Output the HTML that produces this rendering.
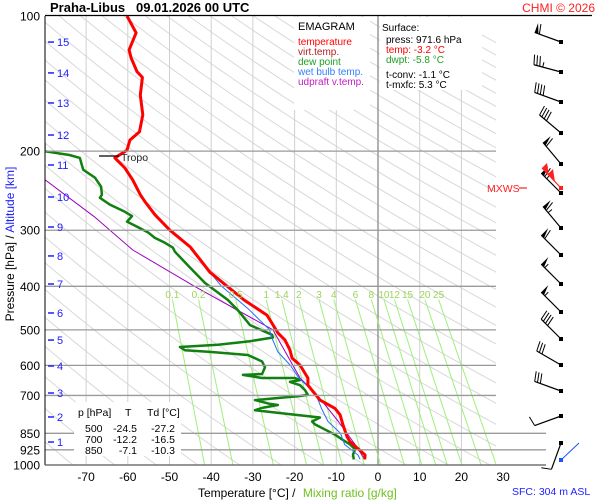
<!DOCTYPE html>
<html><head><meta charset="utf-8">
<style>
body{margin:0;background:#fff;}
svg{display:block;font-family:"Liberation Sans",sans-serif;}
</style></head>
<body>
<svg id="c" width="600" height="500" viewBox="0 0 600 500">
<defs><clipPath id="pc"><rect x="45" y="16" width="451" height="449"/></clipPath></defs>
<rect x="0" y="0" width="600" height="500" fill="#fff"/>
<g id="grid" clip-path="url(#pc)"></g>
<g id="series" clip-path="url(#pc)"></g>
<g id="axes"></g>
</svg>
<script>
// ---- data ----
const tempP=[100,109,119,124,133,137,150,166,181,189,199,207,218,232,250,259,277,300,327,372,429,464,508,527,555,578,599,640,664,717,748,773,814,866,888,950,971.6];
const tempT=[-60.2,-58,-59.7,-59.2,-57.8,-56.5,-57,-56.4,-57.2,-59.5,-60.2,-63.1,-60.7,-58.8,-57,-55.9,-53.5,-49.9,-45,-40.3,-32.1,-26.6,-24,-22.3,-21.1,-20.6,-18.7,-16.8,-16.8,-13.9,-10.3,-9.1,-8.4,-7.4,-6.7,-3.1,-3.2];
const dewP=[192,200,204,207,220,229,240,250,254,263,273,279,287,293,303,312,320,328,335,364,393,429,452,488,513,520,530,540,546,555,560,569,588,606,627,630,640,640,647,653,664,681,698,702,717,731,735,746,755,773,784,800,812,856,877,900,923,948,971.6];
const dewT=[-80,-80,-74,-71.5,-70.7,-67.9,-66.4,-66.2,-66.7,-64.3,-60.7,-59,-60.2,-58.3,-55.2,-53.5,-51.1,-49.2,-48.7,-45,-41.5,-36,-33.6,-30.7,-25.4,-25.2,-30.7,-38.4,-47.5,-46.3,-40.3,-31.2,-27.8,-27.1,-27.8,-32.4,-27.8,-19.9,-18.7,-21.1,-18.7,-17.5,-16.8,-18.7,-29.5,-25.9,-24,-27.8,-29.5,-19.9,-13.9,-15.8,-15.1,-10.3,-8.6,-6.7,-5.5,-6,-5.8];
const wbP=[330,400,450,500,520,560,600,640,680,700,750,800,850,900,950,971.6];
const wbT=[-45,-37.5,-31,-26,-25.5,-24,-21,-19,-16,-14.8,-13.5,-12,-9,-8,-4.8,-4.3];
const updP=[231,280,332,400,500,640,700,800,900,971.6];
const updT=[-80,-68,-58.8,-44,-25.2,-18.7,-14.5,-9.5,-5.5,-3.2];
const mixW=[0.1,0.2,0.5,1,1.4,2,3,4,6,8,10,12,15,20,25];
const xTicks=[-70,-60,-50,-40,-30,-20,-10,0,10,20,30];
const pTicks=[100,200,300,400,500,600,700,850,925,1000];
const kmLevels=[15,14,13,12,11,10,9,8,7,6,5,4,3,2,1];
const kmP=[114.3,133.9,156.2,184.1,214.7,253,295.1,342.3,395.3,458.6,526.9,601.9,691.3,781.7,888.8];
const windY=[42,72,102,133,164,193,228,255,284,312,339,365,391,416,443];
const windDir=[290,285,290,310,320,315,320,315,315,315,315,300,290,250,200];
const windSpd=[60,35,40,40,60,70,65,60,55,55,40,30,30,10,10];

const X=t=>378+t*4.17;
const Y=p=>16+449*Math.log10(p/100);
const NS="http://www.w3.org/2000/svg";
function mk(tag,attrs,parent){const e=document.createElementNS(NS,tag);for(const k in attrs)e.setAttribute(k,attrs[k]);parent.appendChild(e);return e;}
const grid=document.getElementById('grid'),series=document.getElementById('series'),axes=document.getElementById('axes');

// dry adiabats
for(let th=160;th<=560;th+=10){let d='';for(let p=100;p<=1000;p+=10){const t=th*Math.pow(p/1000,0.286)-273.15;d+=(p==100?'M':'L')+X(t).toFixed(1)+','+Y(p).toFixed(1);}
const e=mk('path',{d:d,fill:'none',stroke:'#d8d8d8','stroke-width':1},grid);

}
// vertical grid
xTicks.forEach(t=>{const e=mk('line',{x1:X(t),x2:X(t),y1:16,y2:465,stroke:t==0?'#999':'#d0d0d0','stroke-width':t==0?1.5:1},grid);

});
// pressure lines
pTicks.forEach(p=>{if(p==100)return;const x2=(p>=850)?546:496;const e=mk('line',{x1:45,x2:x2,y1:Y(p),y2:Y(p),stroke:'#9a9a9a','stroke-width':1.3},axes);

});
// mixing ratio lines
function tdFromW(w,p){const e=w*p/(622+w);const l=Math.log(e/6.112);return 243.5*l/(17.67-l);}
mixW.forEach(w=>{const pt=428;const e=mk('line',{x1:X(tdFromW(w,pt)),y1:Y(pt),x2:X(tdFromW(w,1000)),y2:Y(1000),stroke:'#9ef07a','stroke-width':1},grid);


const tx=mk('text',{x:X(tdFromW(w,pt)),y:298,'font-size':10,fill:'#9ed35a','text-anchor':'middle'},axes);tx.textContent=w;

});

// series
function line(P,T,color,w,name){let d='';P.forEach((p,i)=>{d+=(i?'L':'M')+X(T[i]).toFixed(1)+','+Y(p).toFixed(1);});
const e=mk('path',{d:d,fill:'none',stroke:color,'stroke-width':w,'stroke-linejoin':'round'},series);

}
line(updP,updT,'#a000c0',1,'updraft-line');
line(dewP,dewT,'#108010',2.5,'dew-point-line');
line(wbP,wbT,'#2070ff',1,'wet-bulb-line');
line(tempP,tempT,'#ff0000',3,'temperature-line');

// axes frame
mk('line',{x1:45,y1:16,x2:45,y2:465,stroke:'#000','stroke-width':1},axes);
mk('line',{x1:45,y1:15.5,x2:592,y2:15.5,stroke:'#000','stroke-width':1.2},axes);
mk('line',{x1:45,y1:465,x2:546,y2:465,stroke:'#666','stroke-width':1.3},axes);
// x tick labels
xTicks.forEach(t=>{const e=mk('text',{x:X(t),y:481,'font-size':12,fill:'#000','text-anchor':'middle'},axes);e.textContent=t;

});
// p labels
pTicks.forEach(p=>{const e=mk('text',{x:40,y:Y(p)+4.5,'font-size':12,fill:'#000','text-anchor':'end'},axes);e.textContent=p;

});
// km labels
kmLevels.forEach((k,i)=>{const y=Y(kmP[i]);mk('line',{x1:48,x2:54,y1:y,y2:y,stroke:'#2020ff','stroke-width':1.5},axes);
const e=mk('text',{x:57,y:y+4,'font-size':11,fill:'#2020ff'},axes);e.textContent=k;

});
// wind barbs
windY.forEach((y,i)=>{const x0=561,a=windDir[i]*Math.PI/180;const dx=Math.sin(a),dy=-Math.cos(a);const L=28;
const x1=x0+dx*L,y1=y+dy*L;const g=mk('g',{},axes);


mk('line',{x1:x0,y1:y,x2:x1,y2:y1,stroke:'#000','stroke-width':1.2},g);
mk('rect',{x:x0-2,y:y-2,width:4,height:4,fill:'#000'},g);
let s=windSpd[i],pos=0;const px=-dy,py=dx;
while(s>=50){const bx=x1-dx*pos,by=y1-dy*pos;mk('polygon',{points:`${bx},${by} ${bx+px*10},${by+py*10} ${bx-dx*4},${by-dy*4}`,fill:'#000'},g);pos+=5;s-=50;}
while(s>=10){const bx=x1-dx*pos,by=y1-dy*pos;mk('line',{x1:bx,y1:by,x2:bx+px*10+dx*2,y2:by+py*10+dy*2,stroke:'#000','stroke-width':1},g);pos+=3;s-=10;}
if(s>=5){const bx=x1-dx*pos,by=y1-dy*pos;mk('line',{x1:bx,y1:by,x2:bx+px*5,y2:by+py*5,stroke:'#000','stroke-width':1},g);}
});
</script>
<!-- static overlays -->
<svg style="position:absolute;left:0;top:0" width="600" height="500">
<text x="50" y="12" font-family="Liberation Sans" font-size="13" font-weight="bold">Praha-Libus  &#160; 09.01.2026 00 UTC</text>
<text x="595" y="12" font-family="Liberation Sans" font-size="12" fill="#ff2020" text-anchor="end">CHMI © 2026</text>
<g font-family="Liberation Sans" font-size="10">
<rect x="294" y="17" width="76" height="93" fill="#fff"/>
<text x="298" y="30" font-size="11">EMAGRAM</text>
<text x="298" y="45" fill="#ff0000">temperature</text>
<text x="298" y="55" fill="#b02020">virt.temp.</text>
<text x="298" y="65" fill="#20a020">dew point</text>
<text x="298" y="75" fill="#3080ff">wet bulb temp.</text>
<text x="298" y="85" fill="#c020c0">udpraft v.temp.</text>
</g>
<g font-family="Liberation Sans" font-size="10">
<rect x="380" y="17" width="102" height="73" fill="#fff"/>
<text x="382" y="31">Surface:</text>
<text x="386" y="43">press: 971.6 hPa</text>
<text x="386" y="53" fill="#ff0000">temp: -3.2 °C</text>
<text x="386" y="63" fill="#20a020">dwpt: -5.8 °C</text>
<text x="386" y="78">t-conv: -1.1 °C</text>
<text x="386" y="88">t-mxfc: 5.3 °C</text>
</g>
<g font-family="Liberation Sans" font-size="10.5">
<rect x="74" y="402" width="107" height="54" fill="#fff"/>
<text x="78" y="416">p [hPa]</text><text x="125" y="416">T</text><text x="147" y="416">Td [°C]</text>
<text x="85" y="432">500</text><text x="137" y="432" text-anchor="end">-24.5</text><text x="175" y="432" text-anchor="end">-27.2</text>
<text x="85" y="443">700</text><text x="137" y="443" text-anchor="end">-12.2</text><text x="175" y="443" text-anchor="end">-16.5</text>
<text x="85" y="454">850</text><text x="137" y="454" text-anchor="end">-7.1</text><text x="175" y="454" text-anchor="end">-10.3</text>
</g>
<g>
<line x1="99" y1="156" x2="119" y2="156" stroke="#000" stroke-width="1.2"/>
<text x="121" y="161" font-family="Liberation Sans" font-size="10.5" fill="#222">Tropo</text>
</g>
<g>
<text x="487" y="192" font-family="Liberation Sans" font-size="10.5" fill="#ff2020">MXWS</text>
<line x1="519" y1="188" x2="527" y2="188" stroke="#ff2020" stroke-width="1.2"/>
<line x1="561" y1="188" x2="542" y2="168" stroke="#ff2020" stroke-width="1.2"/>
<polygon points="542,168 549,176 547,163" fill="#ff2020"/>
<polygon points="548,174 555,182 553,169" fill="#ff2020"/>
<rect x="559" y="186" width="4" height="4" fill="#ff2020"/>
</g>
<line x1="561" y1="460" x2="579" y2="443" stroke="#2050ff" stroke-width="1"/>
<rect x="559" y="458" width="4" height="4" fill="#2050ff"/>
<text x="6" y="0" transform="translate(14,250) rotate(-90)" text-anchor="middle" font-family="Liberation Sans" font-size="12"><tspan fill="#000">Pressure [hPa]  /  </tspan><tspan fill="#2020ff">Altitude [km]</tspan></text>
<text x="198" y="497" font-family="Liberation Sans" font-size="12"><tspan fill="#000">Temperature [°C]  /  </tspan><tspan fill="#70c020" dx="4">Mixing ratio [g/kg]</tspan></text>
<text x="512" y="495" font-family="Liberation Sans" font-size="10.5" fill="#2020ff">SFC: 304 m ASL</text>
</svg>
</body></html>
